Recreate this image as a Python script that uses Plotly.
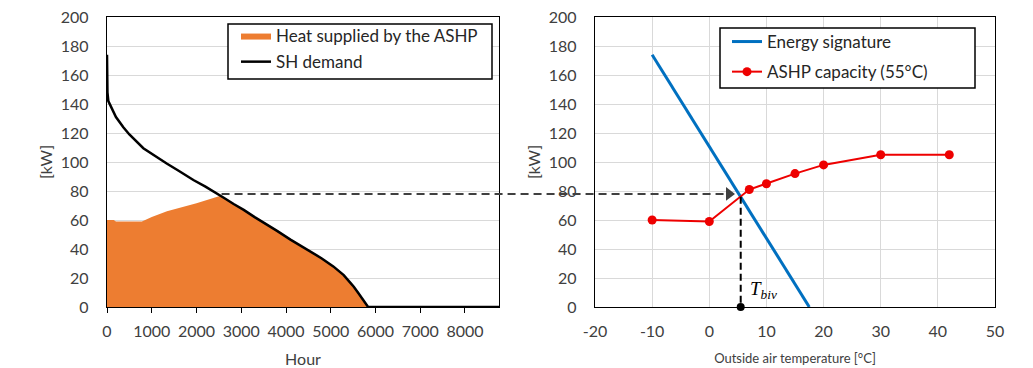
import plotly.graph_objects as go

# ---------------- data ----------------
# Load duration curve of space-heating demand (left panel)
demand_hours = [0, 10, 30, 100, 200, 365, 500, 812, 1000, 1334, 1600, 1930, 2200, 2450,
                2600, 2830, 3055, 3300, 3570, 3800, 4100, 4313, 4545, 4800, 5057, 5290,
                5430, 5515, 5620, 5700, 5803, 5835, 8760]
demand_kw = [174, 148, 142, 137, 131, 124, 119, 109.5, 105.5, 99, 94, 87.6, 83, 78.5,
             75.5, 71, 67, 62, 57, 52.5, 46.5, 42.5, 38, 33.5, 28, 22,
             17, 14, 9.5, 6, 1, 0, 0]

# Heat supplied by the ASHP (upper edge of the orange area, capacity-limited part)
hp_hours = [0, 150, 200, 780, 1000, 1340, 2000, 2520]
hp_kw = [60, 60, 59, 59, 62, 66, 71.5, 76.5]

# Right panel
sig_temp = [-10, 17.5]
sig_kw = [174, 0]
ashp_temp = [-10, 0, 7, 10, 15, 20, 30, 42]
ashp_kw = [60, 59, 81, 85, 92, 98, 105, 105]

temp_ticks = [-20, -10, 0, 10, 20, 30, 40, 50]
temp_tick_labels = ["-20", "-10", "0", "10", "20", "30", "40", "50"]

T_BIV = 5.5
P_BIV = 76
ARROW_KW = 78
ARROW_START_HOUR = 2560
ARROW_TIP_TEMP = 4.3

# ---------------- style ----------------
FONT = "Lato"
TXT = "#404040"
ORANGE = "#ED7D31"
BLUE = "#0070C0"
RED = "#EE0000"
GRID = "#D9D9D9"

W, H = 1033, 368
DX1 = [107 / W, 499 / W]
DX2 = [595 / W, 995 / W]
DY = [1 - 307 / H, 1 - 17 / H]
XR1 = [0, 8760]
XR2 = [-20, 50]

# orange area = ASHP-limited part + demand after the bivalent hour
fill_x = list(hp_hours) + [h for h in demand_hours if h > hp_hours[-1]]
fill_y = list(hp_kw) + [k for h, k in zip(demand_hours, demand_kw) if h > hp_hours[-1]]

fig = go.Figure()

fig.add_trace(go.Scatter(x=fill_x, y=fill_y, mode="lines", fill="tozeroy",
                         fillcolor=ORANGE, line=dict(width=0, color=ORANGE),
                         name="Heat supplied by the ASHP", legend="legend",
                         legendgroup="a", xaxis="x", yaxis="y"))
fig.add_trace(go.Scatter(x=demand_hours, y=demand_kw, mode="lines",
                         line=dict(color="black", width=2.5),
                         name="SH demand", legend="legend", legendgroup="b",
                         xaxis="x", yaxis="y", cliponaxis=False))

fig.add_trace(go.Scatter(x=sig_temp, y=sig_kw, mode="lines",
                         line=dict(color=BLUE, width=3),
                         name="Energy signature", legend="legend2", legendgroup="c",
                         xaxis="x2", yaxis="y2"))
fig.add_trace(go.Scatter(x=ashp_temp, y=ashp_kw, mode="lines+markers",
                         line=dict(color=RED, width=2),
                         marker=dict(color=RED, size=9),
                         name="ASHP capacity (55°C)", legend="legend2",
                         legendgroup="d", xaxis="x2", yaxis="y2"))

# bivalent temperature marker
fig.add_trace(go.Scatter(x=[T_BIV, T_BIV], y=[P_BIV, 0], mode="lines",
                         line=dict(color="black", width=2, dash="7px,4px"),
                         showlegend=False, xaxis="x2", yaxis="y2"))
fig.add_trace(go.Scatter(x=[T_BIV], y=[0], mode="markers",
                         marker=dict(color="black", size=8),
                         showlegend=False, xaxis="x2", yaxis="y2", cliponaxis=False))


def px1(h):
    return DX1[0] + (h - XR1[0]) / (XR1[1] - XR1[0]) * (DX1[1] - DX1[0])


def px2(t):
    return DX2[0] + (t - XR2[0]) / (XR2[1] - XR2[0]) * (DX2[1] - DX2[0])


x_start = px1(ARROW_START_HOUR)
x_tip = px2(ARROW_TIP_TEMP)
fig.add_shape(type="line", xref="paper", yref="y", x0=x_start, x1=x_tip - 9 / W,
              y0=ARROW_KW, y1=ARROW_KW,
              line=dict(color="#404040", width=2, dash="8px,5px"))
# arrow head: a triangle marker whose tip sits at ARROW_TIP_TEMP
fig.add_trace(go.Scatter(x=[ARROW_TIP_TEMP - 0.85], y=[ARROW_KW], mode="markers",
                         marker=dict(symbol="triangle-right", size=12, color="#404040"),
                         showlegend=False, xaxis="x2", yaxis="y2", cliponaxis=False))

fig.add_annotation(xref="x2", yref="y2", x=T_BIV + 1.2, y=11.5,
                   text="<i>T</i><sub><i>biv</i></sub>", showarrow=False,
                   xanchor="left", yanchor="middle",
                   font=dict(family="Liberation Serif", size=19, color="black"))

# legend frames (white boxes with black border)
fig.add_shape(type="rect", xref="paper", yref="paper", layer="above",
              x0=228 / W, x1=492 / W, y0=1 - 79 / H, y1=1 - 24 / H,
              fillcolor="white", line=dict(color="black", width=1.5))
fig.add_shape(type="rect", xref="paper", yref="paper", layer="above",
              x0=720 / W, x1=975 / W, y0=1 - 88 / H, y1=1 - 28 / H,
              fillcolor="white", line=dict(color="black", width=1.5))

axis_common = dict(showline=True, mirror=True, linecolor="black", linewidth=1.3,
                   automargin=False,
                   tickfont=dict(family=FONT, size=16, color=TXT))

fig.update_layout(
    width=W, height=H,
    margin=dict(l=0, r=0, t=0, b=0),
    paper_bgcolor="white", plot_bgcolor="white",
    font=dict(family=FONT, size=16, color=TXT),
    xaxis=dict(domain=DX1, range=XR1, anchor="y", tickmode="linear", tick0=0,
               dtick=1000, showgrid=False, ticks="outside", ticklen=5,
               tickcolor="black", tickwidth=1.3, ticklabelstandoff=5,
               title=dict(text="Hour", font=dict(family=FONT, size=16, color=TXT),
                          standoff=14),
               **axis_common),
    yaxis=dict(domain=DY, range=[0, 200], anchor="x", dtick=20, showgrid=True,
               gridcolor=GRID, gridwidth=1.3, zeroline=True, zerolinecolor="black",
               zerolinewidth=2, ticklabelstandoff=14,
               title=dict(text="[kW]", font=dict(family=FONT, size=16, color=TXT),
                          standoff=4),
               **axis_common),
    xaxis2=dict(domain=DX2, range=XR2, anchor="y2", tickmode="array",
                tickvals=temp_ticks, ticktext=temp_tick_labels,
                showgrid=True, gridcolor=GRID, gridwidth=1.3,
                ticklabelstandoff=10, zeroline=False,
                title=dict(text="Outside air temperature [°C]",
                           font=dict(family=FONT, size=13, color=TXT), standoff=14),
                **axis_common),
    yaxis2=dict(domain=DY, range=[0, 200], anchor="x2", dtick=20, showgrid=True,
                gridcolor=GRID, gridwidth=1.3, zeroline=True, zerolinecolor="black",
                zerolinewidth=2, ticklabelstandoff=14,
                title=dict(text="[kW]", font=dict(family=FONT, size=16, color=TXT),
                           standoff=4),
                **axis_common),
    legend=dict(x=236 / W, y=1 - 18 / H, xanchor="left", yanchor="top",
                bgcolor="rgba(0,0,0,0)", borderwidth=0,
                font=dict(family=FONT, size=17, color="#262626"),
                tracegroupgap=1, traceorder="grouped"),
    legend2=dict(x=727 / W, y=1 - 24 / H, xanchor="left", yanchor="top",
                 bgcolor="rgba(0,0,0,0)", borderwidth=0,
                 font=dict(family=FONT, size=17, color="#262626"),
                 tracegroupgap=5, traceorder="grouped"),
)

fig.write_html("out.html",
               config={"displayModeBar": False},
               post_script="document.body.style.margin='0px';"
                           "document.body.style.overflow='hidden';")
